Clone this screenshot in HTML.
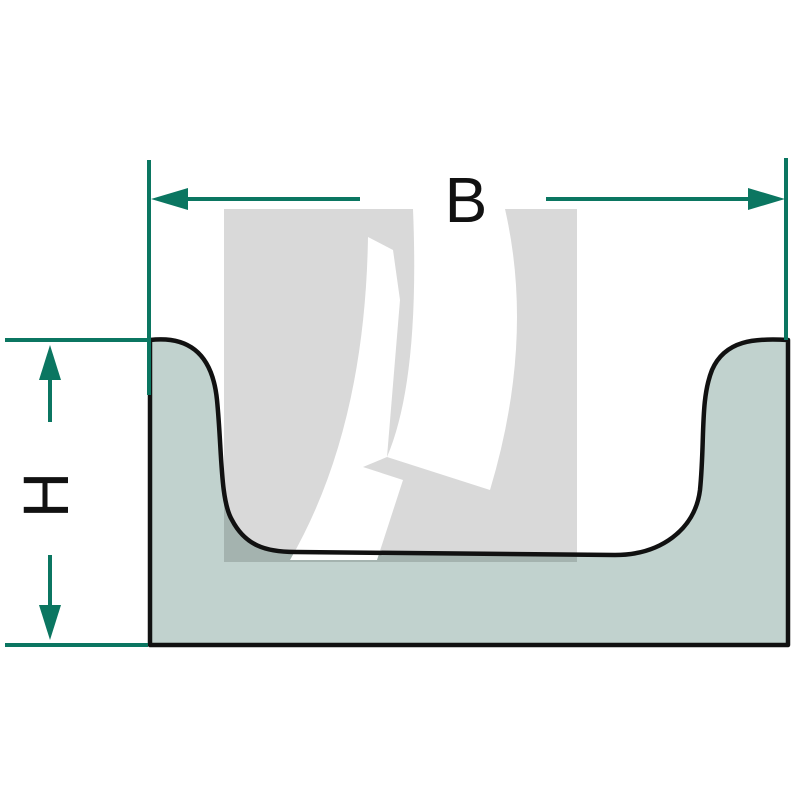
<!DOCTYPE html>
<html><head><style>html,body{margin:0;padding:0;background:#fff}svg{display:block}</style></head>
<body>
<svg width="800" height="800" viewBox="0 0 800 800" xmlns="http://www.w3.org/2000/svg">
<rect width="800" height="800" fill="#fff"/>
<path d="M150,340 C185,336 212,350 217,400 C222,450 220,500 232,520 C245,545 265,552 295,552 L615,555 C660,555 695,530 700,490 C705,440 700,400 712,370 C725,340 755,338 788,340 L788,645 L150,645 Z" fill="#c1d2ce"/>
<rect x="224" y="209" width="353" height="353" fill="#d9d9d9" style="mix-blend-mode:multiply"/>
<path d="M368,237 L393,250 L400,300 L387,457 L363,467 L403,480 L377,560 L290,560 Q365,430 368,237 Z" fill="#fff"/>
<path d="M413,209 L505,209 Q535,340 490,490 L387,457 Q420,380 413,209 Z" fill="#fff"/>
<path d="M150,340 C185,336 212,350 217,400 C222,450 220,500 232,520 C245,545 265,552 295,552 L615,555 C660,555 695,530 700,490 C705,440 700,400 712,370 C725,340 755,338 788,340 L788,645 L150,645 Z" fill="none" stroke="#111" stroke-width="4.5" stroke-linejoin="round"/>
<g stroke="#0b7661" stroke-width="4" fill="none">
<line x1="149" y1="160" x2="149" y2="395"/>
<line x1="786" y1="158" x2="786" y2="340"/>
<line x1="170" y1="199" x2="360" y2="199"/>
<line x1="546" y1="199" x2="765" y2="199"/>
<line x1="5" y1="340" x2="148" y2="340"/>
<line x1="5" y1="645" x2="148" y2="645"/>
<line x1="50" y1="365" x2="50" y2="422"/>
<line x1="50" y1="555" x2="50" y2="620"/>
</g>
<g fill="#0b7661">
<polygon points="151,199 188,188 188,210"/>
<polygon points="785,199 748,188 748,210"/>
<polygon points="50,345 39,380 61,380"/>
<polygon points="50,640 39,605 61,605"/>
</g>
<text x="466" y="222" font-family="Liberation Sans, sans-serif" font-size="64" fill="#111" text-anchor="middle">B</text>
<text transform="translate(68,495) rotate(-90)" font-family="Liberation Sans, sans-serif" font-size="64" fill="#111" text-anchor="middle">H</text>
</svg>
</body></html>
